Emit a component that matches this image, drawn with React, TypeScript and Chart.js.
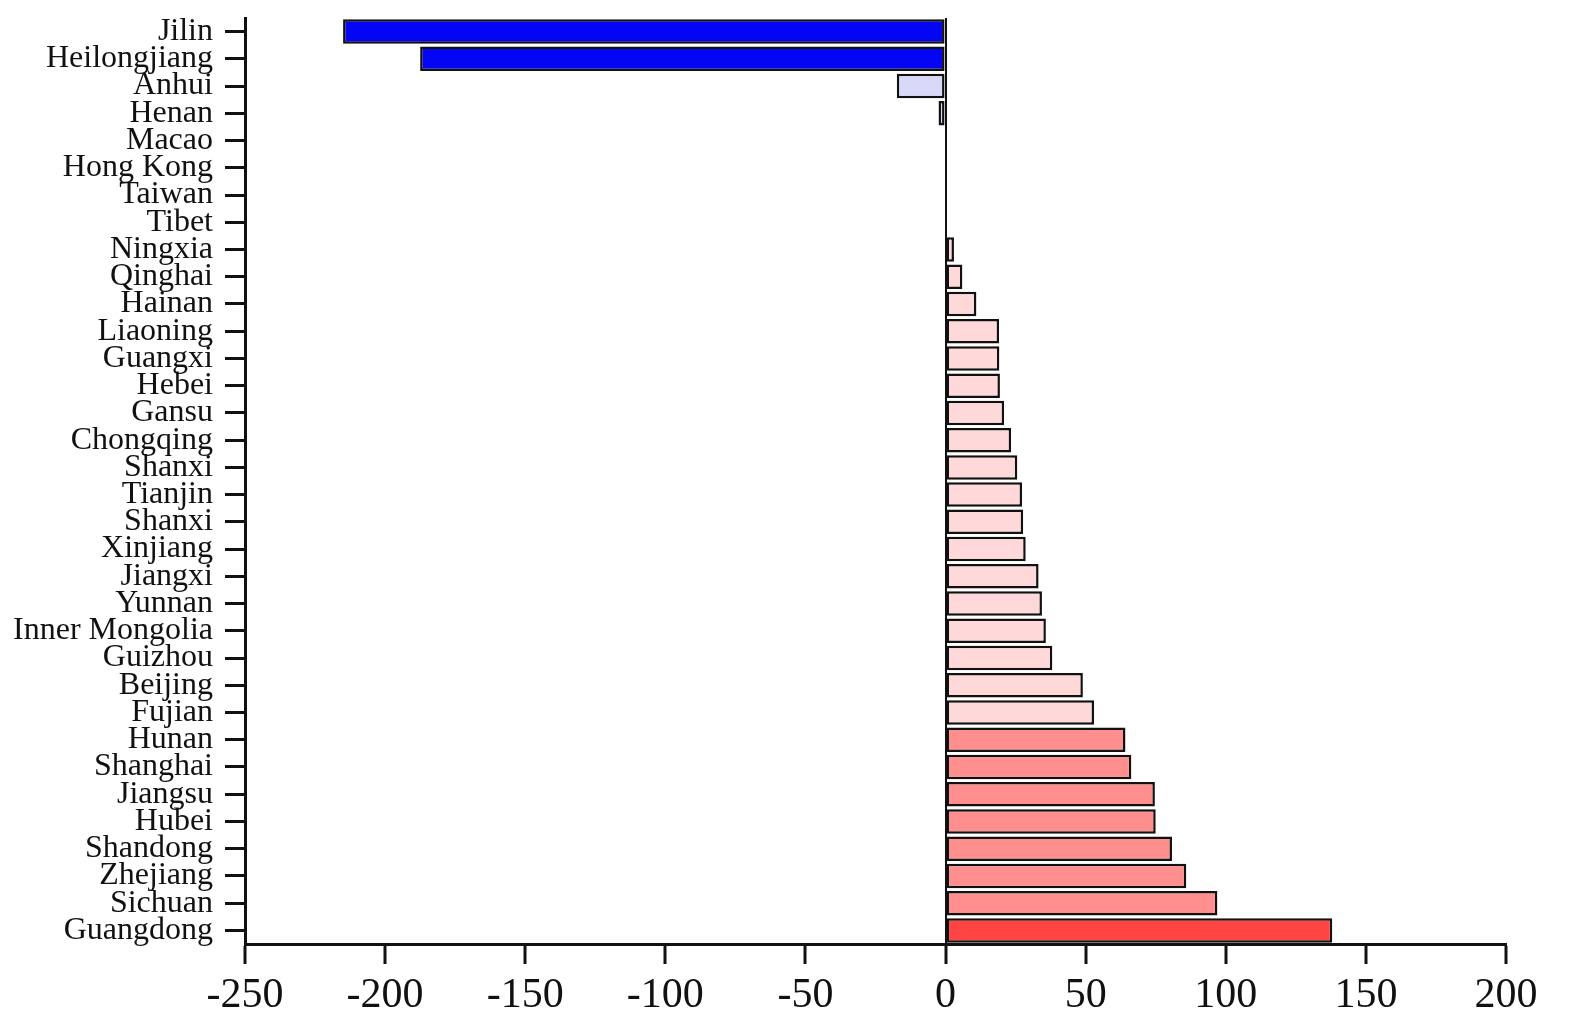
import React, { useEffect, useRef } from "react";
import { Chart, registerables } from "chart.js";

Chart.register(...registerables);

const provinces = [
  "Jilin", "Heilongjiang", "Anhui", "Henan", "Macao", "Hong Kong", "Taiwan", "Tibet",
  "Ningxia", "Qinghai", "Hainan", "Liaoning", "Guangxi", "Hebei", "Gansu", "Chongqing",
  "Shanxi", "Tianjin", "Shanxi", "Xinjiang", "Jiangxi", "Yunnan", "Inner Mongolia", "Guizhou",
  "Beijing", "Fujian", "Hunan", "Shanghai", "Jiangsu", "Hubei", "Shandong", "Zhejiang",
  "Sichuan", "Guangdong",
];

const values = [
  -215, -187.5, -17.4, -2.5, 0, 0, 0, 0,
  3, 6, 11, 19.1, 19.2, 19.4, 20.9, 23.4,
  25.6, 27.3, 27.7, 28.6, 33.2, 34.4, 35.8, 38.1,
  49, 53, 64.2, 66.3, 74.7, 75, 80.8, 85.9,
  97, 138,
];

const xTicks = [-250, -200, -150, -100, -50, 0, 50, 100, 150, 200];

function colorFor(v: number): string {
  if (v <= -100) return "#0505f5";
  if (v < 0) return "#d8d8f8";
  if (v < 60) return "#ffd9d9";
  if (v < 120) return "#ff8e8e";
  return "#ff4444";
}

export default function App() {
  const ref = useRef<HTMLCanvasElement | null>(null);

  useEffect(() => {
    if (!ref.current) return;
    const chart = new Chart(ref.current, {
      type: "bar",
      data: {
        labels: provinces,
        datasets: [
          {
            data: values,
            backgroundColor: values.map(colorFor),
            borderColor: "#111",
            borderWidth: 2.5,
            borderSkipped: false,
            barPercentage: 0.9,
            categoryPercentage: 1,
          },
        ],
      },
      options: {
        indexAxis: "y",
        animation: false,
        responsive: false,
        maintainAspectRatio: false,
        layout: { padding: { top: 18, right: 73, left: 0, bottom: 0 } },
        plugins: { legend: { display: false }, tooltip: { enabled: false } },
        scales: {
          x: {
            type: "linear",
            min: -250,
            max: 200,
            afterBuildTicks: (scale: any) => {
              scale.ticks = xTicks.map((v) => ({ value: v }));
            },
            afterFit: (scale: any) => {
              scale.height = 91;
              scale.paddingLeft = 0;
              scale.paddingRight = 0;
            },
            ticks: {
              color: "#111",
              font: { family: "'Liberation Serif', 'Times New Roman', serif", size: 42 },
              padding: 7,
              maxRotation: 0,
              autoSkip: false,
            },
            grid: {
              drawOnChartArea: true,
              color: (ctx: any) => (ctx.tick && ctx.tick.value === 0 ? "#111" : "rgba(0,0,0,0)"),
              lineWidth: 2,
              tickColor: "#111",
              tickLength: 20,
              tickWidth: 3,
            },
            border: { color: "#111", width: 3 },
          },
          y: {
            type: "category",
            offset: true,
            afterFit: (scale: any) => {
              scale.width = 245;
              scale.paddingTop = 0;
              scale.paddingBottom = 0;
            },
            ticks: {
              color: "#111",
              font: { family: "'Liberation Serif', 'Times New Roman', serif", size: 32 },
              padding: 12,
              autoSkip: false,
            },
            grid: {
              offset: false,
              drawOnChartArea: false,
              tickColor: "#111",
              tickLength: 20,
              tickWidth: 3,
            },
            border: { color: "#111", width: 3 },
          },
        },
      },
    });
    return () => chart.destroy();
  }, []);

  return (
    <div style={{ position: "fixed", left: 0, top: 0, width: 1579, height: 1035, background: "#fff" }}>
      <canvas ref={ref} width={1579} height={1035} style={{ width: 1579, height: 1035, display: "block" }} />
    </div>
  );
}
